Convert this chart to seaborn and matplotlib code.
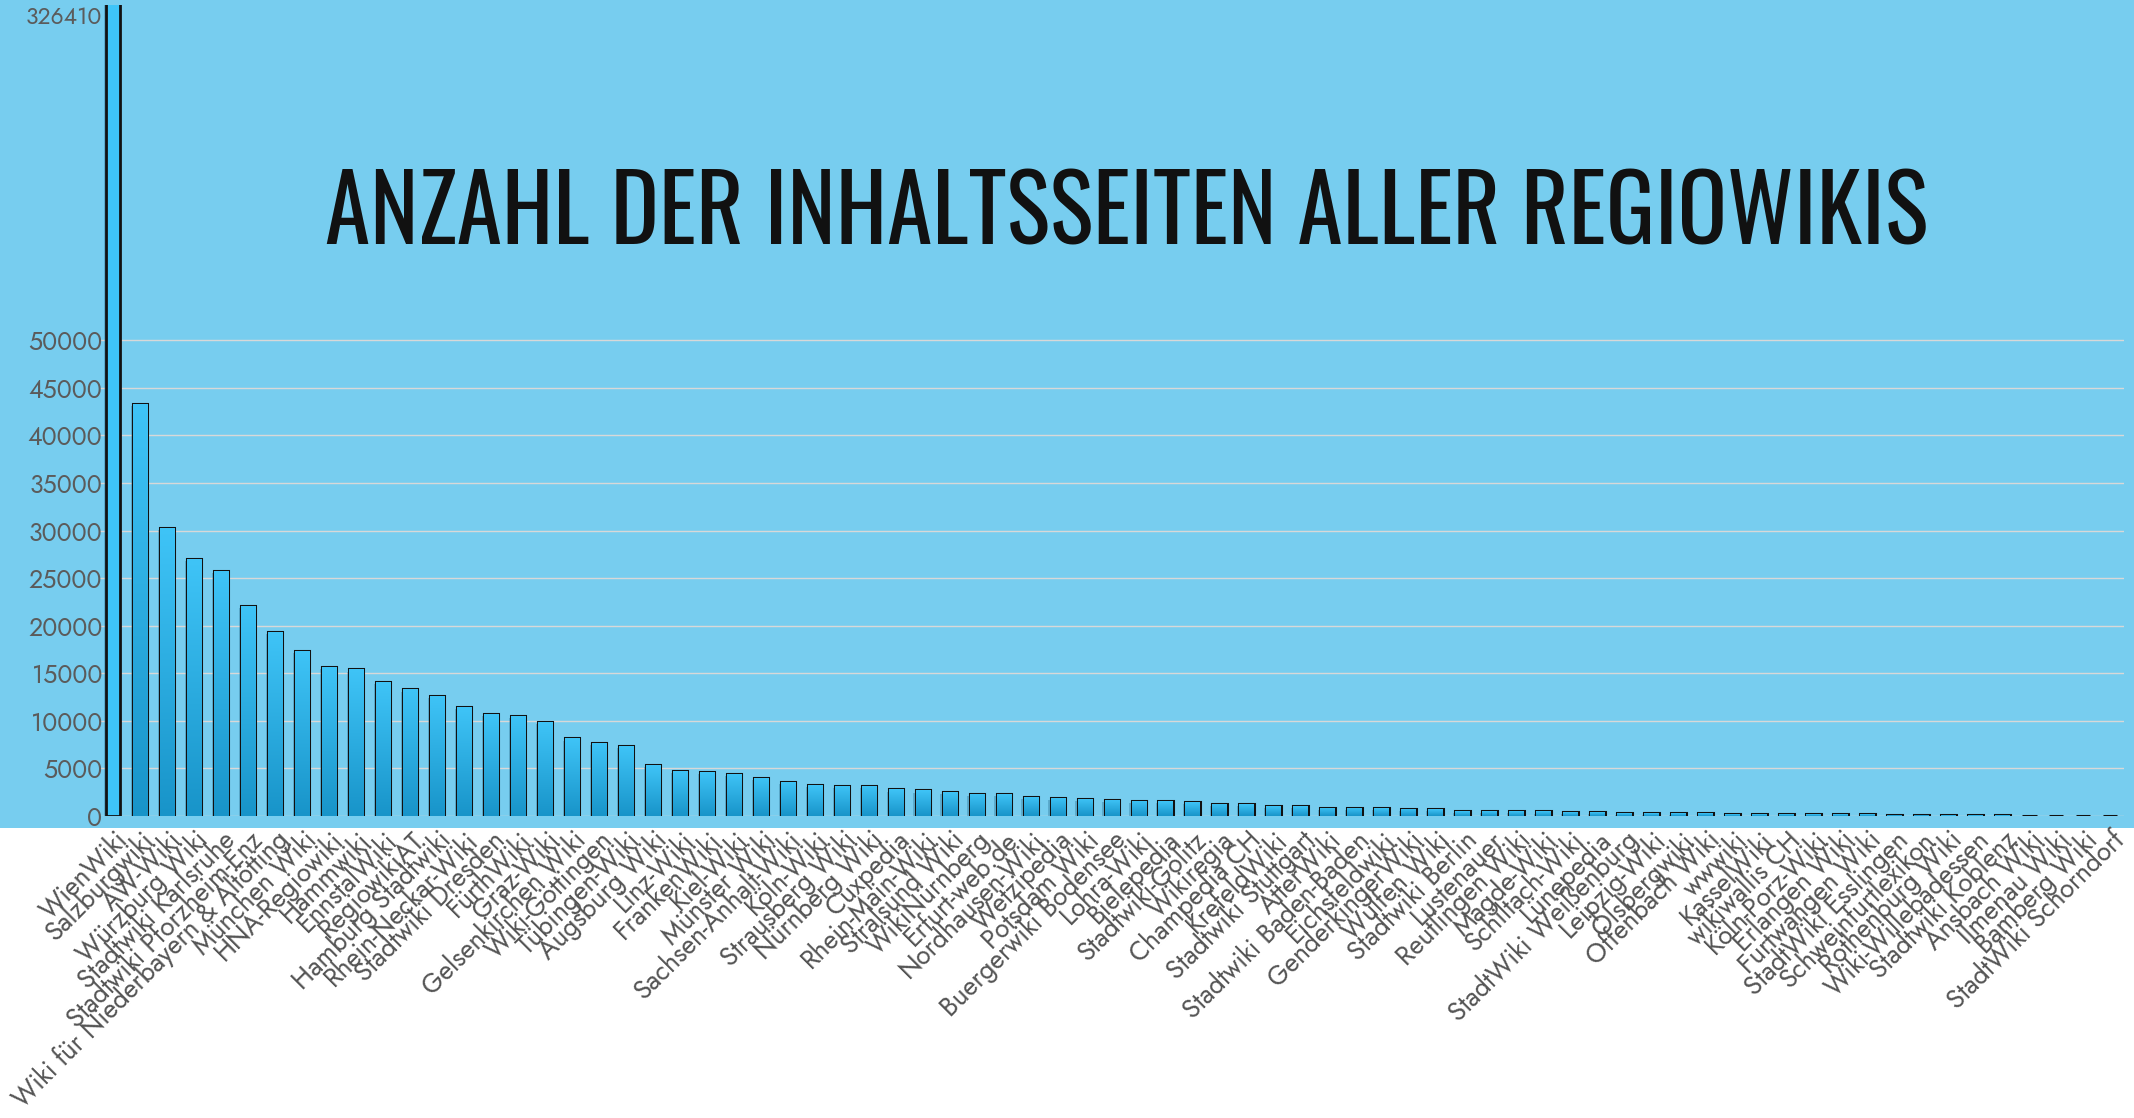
import numpy as np
import pandas as pd
import matplotlib
matplotlib.use("Agg")
import matplotlib.pyplot as plt
import matplotlib.patheffects as pe
from matplotlib.patches import Rectangle
from matplotlib.colors import LinearSegmentedColormap
import seaborn as sns

# Data
wikis = [
    "WienWiki", "Salzburgwiki", "AW-Wiki", "Würzburg Wiki", "Stadtwiki Karlsruhe",
    "Stadtwiki Pforzheim-Enz", "Wiki für Niederbayern & Altötting", "München Wiki",
    "HNA-Regiowiki", "Hammwiki", "EnnstalWiki", "RegiowikiAT", "Hamburg Stadtwiki",
    "Rhein-Neckar-Wiki", "Stadtwiki Dresden", "FürthWiki", "Graz-Wiki",
    "Gelsenkirchen Wiki", "Wiki-Göttingen", "Tübingen-Wiki", "Augsburg Wiki",
    "Linz-Wiki", "FrankenWiki", "Kiel-Wiki", "Münster Wiki", "Sachsen-Anhalt-Wiki",
    "Köln-Wiki", "Strausberg Wiki", "Nürnberg Wiki", "Cuxpedia", "Rhein-Main-Wiki",
    "Stralsund Wiki", "WikiNürnberg", "Erfurt-web.de", "Nordhausen-Wiki",
    "Wetzipedia", "Potsdam Wiki", "Buergerwiki Bodensee", "Lohra-Wiki", "Bielepedia",
    "Stadtwiki-Gölitz", "Wikiregia", "Champedia CH", "KrefeldWiki",
    "Stadtwiki Stuttgart", "AtterWiki", "Stadtwiki Baden-Baden", "Eichsfeldwiki",
    "GenderkingerWiki", "Wulfen Wiki", "Stadtwiki Berlin", "Lustenauer",
    "Reutlingen Wiki", "Magde-Wiki", "Schiltach-Wiki", "Lünepedia",
    "StadtWiki Weißenburg", "Leipzig-Wiki", "Ölsbergwiki", "Offenbach Wiki",
    "wwwiki", "KasselWiki", "wikiwallis CH", "Köln-Porz-Wiki", "Erlangen Wiki",
    "Furtwangen Wiki", "StadtWiki Esslingen", "Schweinfurtlexikon",
    "Rothenburg Wiki", "Wiki-Willebadessen", "Stadtwiki Koblenz", "Ansbach Wiki",
    "Ilmenau Wiki", "Bamberg Wiki", "StadtWiki Schorndorf",
]
pages = [
    326410, 43300, 30300, 27000, 25750, 22100, 19300, 17350, 15650, 15400,
    14050, 13300, 12650, 11450, 10700, 10550, 9850, 8150, 7650, 7350,
    5330, 4700, 4600, 4420, 4040, 3620, 3240, 3200, 3200, 2790,
    2680, 2510, 2330, 2300, 2020, 1940, 1800, 1720, 1610, 1540,
    1440, 1300, 1230, 1050, 1050, 880, 870, 840, 770, 700,
    500, 490, 490, 480, 390, 380, 290, 280, 280, 270,
    210, 200, 200, 170, 160, 160, 150, 130, 80, 70,
    60, 50, 45, 40, 30,
]
yticks = list(range(0, 50001, 5000))
title = "ANZAHL DER INHALTSSEITEN ALLER REGIOWIKIS"

df = pd.DataFrame({"Wiki": wikis, "Seiten": pages})

bg = "#77cdef"
bar_top = "#3fc4f7"
bar_bottom = "#1894c9"
ymax = 85240

sns.set_theme(style="white")
plt.rcParams['font.family'] = ['Jost', 'DejaVu Sans']

fig = plt.figure(figsize=(21.34, 11.18), dpi=100, facecolor="white")
fig.patches.append(Rectangle((0, 0.2594), 1, 0.7406, transform=fig.transFigure,
                             facecolor=bg, edgecolor="none", zorder=-5))
ax = fig.add_axes([0.04663, 0.27013, 0.9486, 0.7254])
ax.set_facecolor("none")

sns.barplot(data=df, x="Wiki", y="Seiten", color=bar_top, saturation=1,
            edgecolor="#111111", linewidth=2.2, width=0.53, ax=ax, zorder=3)

# gradient fill + soft shadow on the bars
cmap = LinearSegmentedColormap.from_list("bars", [bar_bottom, bar_top])
grad = np.linspace(0, 1, 256).reshape(-1, 1)
for k, p in enumerate(ax.patches):
    p.set_path_effects([pe.SimplePatchShadow(offset=(-1.5, -1.5), shadow_rgbFace="#1d5f80",
                                             alpha=0.3), pe.Normal()])
    if k == 0:
        p.set_facecolor("#3ec4f8")
        p.set_linewidth(2.0)
        continue
    x0, w, h = p.get_x(), p.get_width(), p.get_height()
    im = ax.imshow(grad, extent=[x0, x0 + w, 0, h], origin="lower", cmap=cmap,
                   aspect="auto", zorder=3.5, interpolation="bilinear")
    im.set_clip_path(p)

ax.set_xlim(-0.5, 74.5)
ax.set_ylim(0, ymax)

ax.set_yticks(yticks + [84160])
ax.set_yticklabels([str(v) for v in yticks] + [str(max(pages))])
ax.tick_params(axis="y", length=0, pad=-2, labelsize=18, labelcolor="#5b5b5b")
ax.get_yticklabels()[-1].set_fontsize(16.5)
ax.set_xticks(range(len(wikis)))
ax.set_xticklabels(wikis, rotation=45, ha="right", rotation_mode="anchor")
ax.tick_params(axis="x", length=0, pad=7, labelsize=19, labelcolor="#555555")
ax.set_xlabel("")
ax.set_ylabel("")

ax.yaxis.grid(True, color="#d8d8d8", linewidth=1.0, zorder=1)
ax.set_axisbelow(True)
ax.get_ygridlines()[-1].set_visible(False)
sns.despine(ax=ax, left=True, bottom=True)

fig.text(0.528, 0.807, title, ha="center", va="center", fontsize=66,
         color="#111111", family=["Oswald", "DejaVu Sans"])

fig.savefig("out.png", dpi=100, facecolor="white")
